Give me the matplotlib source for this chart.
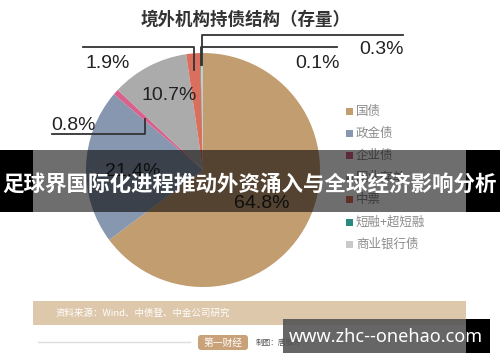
import numpy as np
import matplotlib
matplotlib.use("Agg")
import matplotlib.pyplot as plt
from matplotlib.patches import Rectangle, FancyBboxPatch

plt.rcParams['font.family'] = ['Noto Sans CJK SC', 'DejaVu Sans']

title = '境外机构持债结构（存量）'
categories = ['国债', '政金债', '企业债', '同业存单', '中票', '短融+超短融', '商业银行债']
shares = [64.8, 21.4, 0.8, 10.7, 1.9, 0.1, 0.3]
colors = ['#C19D70', '#8797AF', '#D9628C', '#ABABAB', '#DA6F5E', '#2A8A7E', '#C9C9C9']
banner = '足球界国际化进程推动外资涌入与全球经济影响分析'
source = '资料来源：Wind、中债登、中金公司研究'
watermark = 'www.zhc--onehao.com'

W, H = 500, 362
cx, cy, r = 203, 170, 117

fig = plt.figure(figsize=(W / 100, H / 100), dpi=100)
fig.patch.set_facecolor('white')

# pie in its own square axes
pax = fig.add_axes([(cx - r) / W, 1 - (cy + r) / H, 2 * r / W, 2 * r / H])
pax.pie(shares, colors=colors, startangle=90, counterclock=False, radius=1)
pax.set_xlim(-1, 1)
pax.set_ylim(-1, 1)
pax.set_aspect('auto')
pax.axis('off')

# overlay in pixel coordinates
ax = fig.add_axes([0, 0, 1, 1])
ax.set_xlim(0, W)
ax.set_ylim(H, 0)
ax.axis('off')


def wedge_point(i, rr):
    f = (sum(shares[:i]) + shares[i] / 2) / sum(shares)
    a = 2 * np.pi * f
    return cx + r * rr * np.sin(a), cy - r * rr * np.cos(a)


ax.text(246, 20, title, ha='center', va='center', fontsize=12.6,
        fontweight='bold', color='#333333')

pct_font = dict(family=['Liberation Sans', 'DejaVu Sans'], fontsize=14,
                color='#222222', ha='center', va='center')
lc = dict(color='#333333', lw=1.3)

# 中票 1.9%
x0, y0 = wedge_point(4, 0.86)
ax.plot([x0, x0, 83], [y0, 47, 47], **lc)
ax.text(108, 63, f'{shares[4]}%', **pct_font)
# 短融 0.1%
x0, y0 = wedge_point(5, 0.9)
ax.plot([x0, x0, 337], [y0, 47, 47], **lc)
ax.text(317, 63, f'{shares[5]}%', **pct_font)
# 商业银行债 0.3%
x0, y0 = wedge_point(6, 0.9)
ax.plot([x0, x0, 403], [y0, 35, 35], **lc)
ax.text(381, 50, f'{shares[6]}%', **pct_font)
# 企业债 0.8%
x0, y0 = wedge_point(2, 0.66)
ax.plot([x0, x0, 52], [y0, 134, 134], **lc)
ax.text(73, 126, f'{shares[2]}%', **pct_font)
# inside labels
ax.text(169, 95, f'{shares[3]}%', **pct_font)
ax.text(133, 172, f'{shares[1]}%', **pct_font)
ax.text(262, 203, f'{shares[0]}%', **pct_font)

# legend
for i, (name, c) in enumerate(zip(categories, colors)):
    y = 111 + i * 22.2
    ax.add_patch(Rectangle((345.5, y - 3.5), 7, 7, color=c, lw=0))
    ax.text(356, y, name, fontsize=9, color='#8C8C8C', va='center', ha='left')

# source band and footer
ax.add_patch(Rectangle((33, 301), 433, 24, color='#DEC8AB', lw=0))
ax.text(55, 313, source, fontsize=6.8, color='white', va='center', ha='left')
ax.plot([38, 190], [342, 342], color='#DDDDDD', lw=1)
ax.add_patch(FancyBboxPatch((198, 335), 50, 15, boxstyle='round,pad=0,rounding_size=3',
                            color='#C9A27A', lw=0))
ax.text(223, 342.5, '第一财经', fontsize=7, color='white', va='center', ha='center')
ax.text(256, 342.5, '制图：唐雅芳', fontsize=5.5, color='#555555', va='center', ha='left')

# banner overlay
ax.add_patch(Rectangle((0, 150), W, 62, color='black', alpha=0.57, lw=0, zorder=5))
ax.add_patch(Rectangle((0, 150), 33, 62, color='black', lw=0, zorder=5))
ax.add_patch(Rectangle((466, 150), 34, 62, color='black', lw=0, zorder=5))
ax.text(250, 184, banner, fontsize=15.5, fontweight='bold', color='white',
        ha='center', va='center', zorder=6)

# watermark box
ax.add_patch(Rectangle((283, 319), 183, 34, color='#555555', alpha=0.9, lw=0, zorder=5))
ax.add_patch(Rectangle((466, 319), 24, 34, color='black', lw=0, zorder=5))
ax.text(386, 337, watermark, fontsize=13, color='white', fontweight='bold',
        family=['Noto Sans', 'DejaVu Sans'], ha='center', va='center', zorder=6)

fig.savefig('out.png', dpi=100)
